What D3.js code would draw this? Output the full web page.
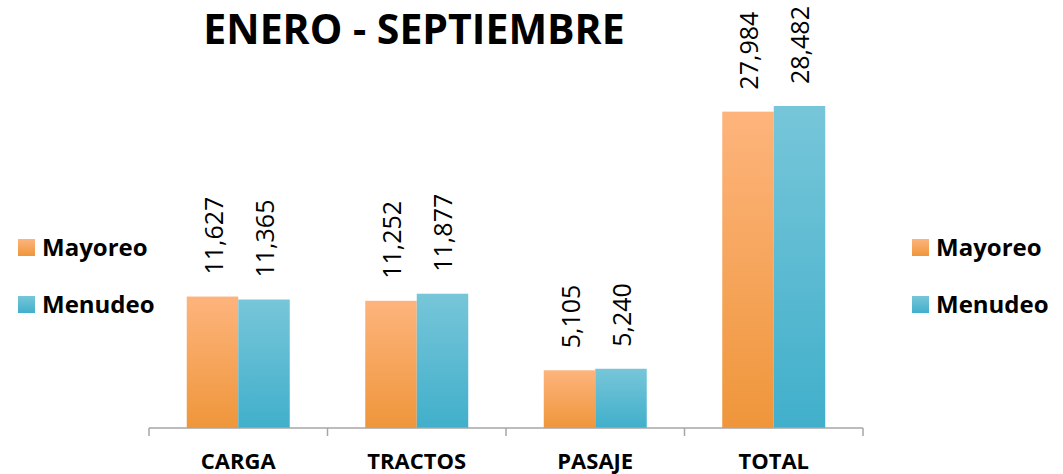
<!DOCTYPE html>
<html>
<head>
<meta charset="utf-8">
<script src="https://cdn.jsdelivr.net/npm/d3@7"></script>
<style>
  body { margin: 0; background: #fff; }
  text { font-family: "Open Sans", "DejaVu Sans", sans-serif; }
</style>
</head>
<body>
<div id="chart"></div>
<script>
// data
let categories = ['CARGA', 'TRACTOS', 'PASAJE', 'TOTAL'];
let seriesNames = ['Mayoreo', 'Menudeo'];
let mayoreo = [11627, 11252, 5105, 27984];
let menudeo = [11365, 11877, 5240, 28482];
let title = 'ENERO - SEPTIEMBRE';

let width = 1063, height = 474;
let axisY = 428, axisLeft = 149, axisRight = 863;

let svg = d3.select('#chart')
  .append('svg')
  .attr('width', width)
  .attr('height', height);

// gradients, light on top and darker at the bottom
let defs = svg.append('defs');
let gradColors = {
  Mayoreo: ['#FDB47C', '#EF963B'],
  Menudeo: ['#77C6D9', '#41AFCB']
};
seriesNames.forEach(function(s) {
  let g = defs.append('linearGradient')
    .attr('id', 'grad-' + s)
    .attr('x1', 0).attr('y1', 0).attr('x2', 0).attr('y2', 1);
  g.append('stop').attr('offset', '0%').attr('stop-color', gradColors[s][0]);
  g.append('stop').attr('offset', '100%').attr('stop-color', gradColors[s][1]);
});

let rows = categories.map(function(c, i) {
  return { cat: c, values: [
    { key: 'Mayoreo', value: mayoreo[i] },
    { key: 'Menudeo', value: menudeo[i] }
  ]};
});

let x0 = d3.scaleBand()
  .domain(categories)
  .range([axisLeft, axisRight])
  .padding(0);

let groupW = x0.bandwidth() * 0.577;
let x1 = d3.scaleBand()
  .domain(seriesNames)
  .range([(x0.bandwidth() - groupW) / 2, (x0.bandwidth() + groupW) / 2]);

let yScale = d3.scaleLinear()
  .domain([0, 28482])
  .range([axisY, 106]);

// title
svg.append('text')
  .attr('x', 414)
  .attr('y', 44)
  .attr('text-anchor', 'middle')
  .style('font-size', '41px')
  .style('font-weight', 'bold')
  .text(title);

// bars
let groups = svg.append('g')
  .selectAll('g')
  .data(rows)
  .join('g')
  .attr('transform', function(d) { return 'translate(' + x0(d.cat) + ',0)'; });

groups.selectAll('rect')
  .data(function(d) { return d.values; })
  .join('rect')
  .attr('x', function(d) { return x1(d.key); })
  .attr('y', function(d) { return yScale(d.value); })
  .attr('width', x1.bandwidth())
  .attr('height', function(d) { return axisY - yScale(d.value); })
  .attr('fill', function(d) { return 'url(#grad-' + d.key + ')'; });

// rotated value labels
groups.selectAll('text')
  .data(function(d) { return d.values; })
  .join('text')
  .attr('transform', function(d) {
    let cx = x1(d.key) + x1.bandwidth() / 2 + 10;
    let ty = yScale(d.value) - 22;
    return 'translate(' + cx + ',' + ty + ') rotate(-90)';
  })
  .style('font-size', '25px')
  .style('fill', '#000')
  .text(function(d) { return d3.format(',')(d.value); });

// axis
let xAxis = d3.axisBottom(x0).tickSize(0).tickFormat('');
let axisG = svg.append('g')
  .attr('transform', 'translate(0,' + axisY + ')')
  .call(xAxis);
axisG.select('.domain').remove();
axisG.append('line')
  .attr('x1', axisLeft).attr('x2', axisRight)
  .attr('stroke', '#A6A6A6').attr('stroke-width', 1.5);
axisG.selectAll('.sep')
  .data(d3.range(categories.length + 1))
  .join('line')
  .attr('class', 'sep')
  .attr('x1', function(i) { return axisLeft + i * x0.step(); })
  .attr('x2', function(i) { return axisLeft + i * x0.step(); })
  .attr('y1', 0).attr('y2', 8)
  .attr('stroke', '#A6A6A6').attr('stroke-width', 1.5);

// category labels
svg.append('g')
  .selectAll('text')
  .data(categories)
  .join('text')
  .attr('x', function(d) { return x0(d) + x0.bandwidth() / 2; })
  .attr('y', 469)
  .attr('text-anchor', 'middle')
  .style('font-size', '22px')
  .style('font-weight', 'bold')
  .text(function(d) { return d; });

// two legends, left and right
[18, 912].forEach(function(lx) {
  let leg = svg.append('g').attr('transform', 'translate(' + lx + ',0)');
  seriesNames.forEach(function(s, i) {
    let ly = 239 + i * 57;
    leg.append('rect')
      .attr('x', 0).attr('y', ly)
      .attr('width', 17).attr('height', 17)
      .attr('fill', 'url(#grad-' + s + ')');
    leg.append('text')
      .attr('x', 24).attr('y', ly + 17)
      .style('font-size', '24px')
      .style('font-weight', 'bold')
      .text(s);
  });
});
</script>
</body>
</html>
